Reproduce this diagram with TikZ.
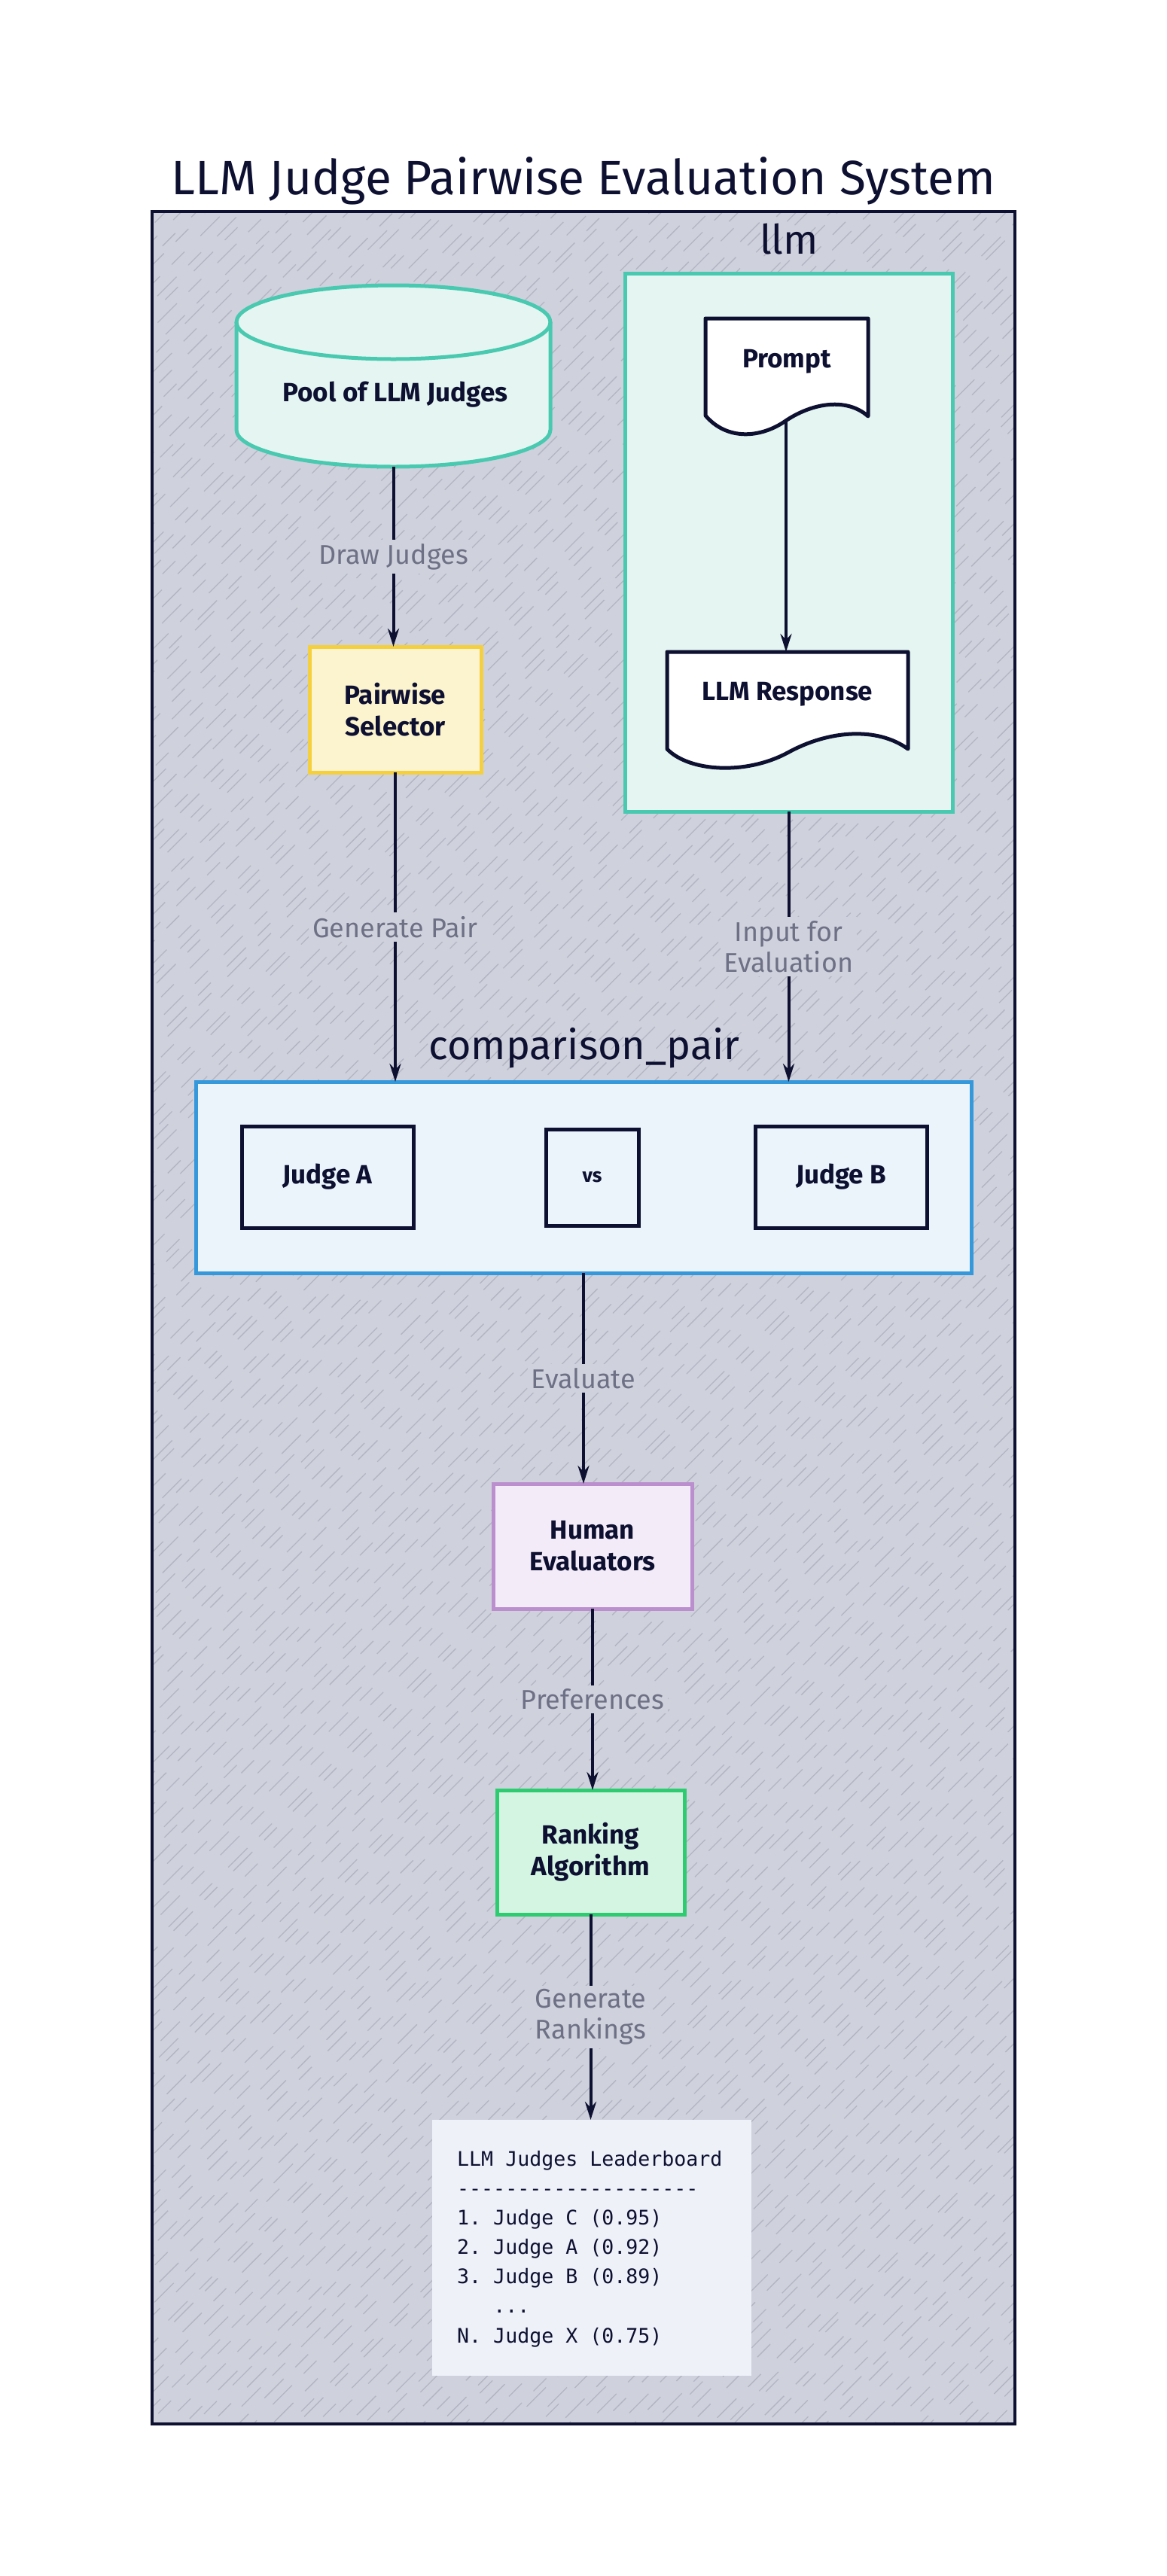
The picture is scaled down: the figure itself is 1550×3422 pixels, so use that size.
\documentclass[tikz,border=0pt]{standalone}
\usepackage{fontspec}
\setmainfont{Fira Sans}
\newfontfamily\monofnt{DejaVu Sans Mono}
\usetikzlibrary{arrows.meta}
\definecolor{ink}{HTML}{0D1030}
\definecolor{framefill}{HTML}{CFD1DD}
\definecolor{hatchc}{HTML}{B3B5C3}
\definecolor{tealline}{HTML}{48C9B0}
\definecolor{tealfill}{HTML}{E5F5F1}
\definecolor{yelline}{HTML}{F4D03F}
\definecolor{yelfill}{HTML}{FCF3CF}
\definecolor{blueline}{HTML}{3498DB}
\definecolor{bluefill}{HTML}{EBF3FB}
\definecolor{purline}{HTML}{BB8FCE}
\definecolor{purfill}{HTML}{F3EBF7}
\definecolor{grnline}{HTML}{2ECC71}
\definecolor{grnfill}{HTML}{D5F5E3}
\definecolor{lbfill}{HTML}{EEF1F8}
\definecolor{elabc}{HTML}{6E7085}
\tikzset{
  arr/.style={draw=ink, line width=4pt, -{Stealth[length=24pt,width=15pt]}},
  nodebox/.style={rectangle, line width=5pt, inner sep=0pt, outer sep=0pt, align=center,
     font=\fontsize{35}{42}\selectfont\bfseries, text=ink},
  grp/.style={rectangle, line width=5pt, inner sep=0pt, outer sep=0pt},
  elabel/.style={fill=framefill, inner sep=5pt, align=center, text=elabc,
     font=\fontsize{36}{41}\selectfont},
  hatch/.style={draw=hatchc, line width=1.3pt},
  docline/.style={draw=ink, line width=5pt, line join=round, fill=white},
  lbline/.style={anchor=base west, inner sep=0pt, text=ink, font=\monofnt\fontsize{26.6}{39}\selectfont},
}
\frenchspacing
\begin{document}
\begin{tikzpicture}[x=1pt, y=-1pt]
\useasboundingbox[fill=white] (0,0) rectangle (1550,3422);
% title
\node[font=\fontsize{64}{70}\selectfont, text=ink] (title) at (775,240) {LLM Judge Pairwise Evaluation System};
% outer frame
\fill[framefill] (202,281) rectangle (1348,3220);
\pgfmathsetseed{4242}
\begin{scope}
\clip (202,281) rectangle (1348,3220);
\foreach \k in {0,...,210} {
  \pgfmathsetmacro{\ph}{random(0,90)}
  \pgfmathsetmacro{\dx}{rand*6}
  \draw[hatch, dash pattern=on 36pt off 22pt on 24pt off 30pt, dash phase=\ph pt] ({-2800+\k*20+\dx},3240) -- ++(3100,-3100);
}
\end{scope}
\draw[ink, line width=4.5pt] (202,281) rectangle (1348,3220);

% llm group
\node[grp, draw=tealline, fill=tealfill, minimum width=435, minimum height=715] (llm) at (1047.5,720.5) {};
\node[font=\fontsize{54}{58}\selectfont, text=ink] (llmlabel) at (1048,318) {llm};

% pool cylinder
\fill[tealfill] (314,428) -- (314,571) arc[start angle=180, end angle=0, x radius=208.5, y radius=49] -- (731,428) arc[start angle=0, end angle=-180, x radius=208.5, y radius=49] -- cycle;
\draw[tealline, line width=5pt] (314,428) -- (314,571) arc[start angle=180, end angle=0, x radius=208.5, y radius=49] -- (731,428);
\draw[tealline, line width=5pt] (522.5,428) ellipse[x radius=208.5, y radius=49];
\node[nodebox, minimum width=417, minimum height=241] (pool) at (522.5,499.5) {};
\node[nodebox] (pooltext) at (525,524) {Pool of LLM Judges};

% pairwise selector
\node[nodebox, draw=yelline, fill=yelfill, minimum width=228, minimum height=167] (sel) at (525,942.5) {Pairwise\\Selector};

% prompt document
\draw[docline] (937,552) -- (937,423) -- (1153,423) -- (1153,553)
  .. controls (1125,528) and (1080,535) .. (1045,558)
  .. controls (1010,583) and (965,585) .. (937,552) -- cycle;
\node[nodebox] (prompt) at (1045,480) {Prompt};
\coordinate (promptbot) at (1044,558);

% LLM response document
\draw[docline] (886,995) -- (886,866) -- (1206,866) -- (1206,995)
  .. controls (1165,965) and (1100,970) .. (1046,1000)
  .. controls (990,1030) and (915,1025) .. (886,995) -- cycle;
\node[nodebox, minimum width=320, minimum height=129] (resp) at (1046,930.5) {};
\node[nodebox] (resptext) at (1046,922) {LLM Response};

% comparison pair group
\node[grp, draw=blueline, fill=bluefill, minimum width=1030, minimum height=254] (cmp) at (775,1564) {};
\node[font=\fontsize{54}{60}\selectfont, text=ink] (cmplabel) at (776,1392) {comparison\_pair};
\node[nodebox, draw=ink, minimum width=228, minimum height=135] (ja) at (435,1563.5) {Judge A};
\node[nodebox, draw=ink, minimum width=123, minimum height=128, font=\fontsize{26}{30}\selectfont\bfseries] (vs) at (786.5,1564) {vs};
\node[nodebox, draw=ink, minimum width=228, minimum height=135] (jb) at (1117,1563.5) {Judge B};

% human evaluators
\node[nodebox, draw=purline, fill=purfill, minimum width=264, minimum height=166] (hum) at (787,2054) {Human\\Evaluators};
% ranking
\node[nodebox, draw=grnline, fill=grnfill, minimum width=249, minimum height=165] (rank) at (784.5,2460.5) {Ranking\\Algorithm};

% leaderboard
\node[rectangle, fill=lbfill, minimum width=424, minimum height=340, inner sep=0pt, outer sep=0pt] (board) at (786,2986) {};
\node[lbline] (lb1) at (607,2877) {LLM Judges Leaderboard};
\node[lbline] (lb2) at (607,2916) {-{}-{}-{}-{}-{}-{}-{}-{}-{}-{}-{}-{}-{}-{}-{}-{}-{}-{}-{}-{}};
\node[lbline] (lb3) at (607,2955) {1. Judge C (0.95)};
\node[lbline] (lb4) at (607,2994) {2. Judge A (0.92)};
\node[lbline] (lb5) at (607,3033) {3. Judge B (0.89)};
\node[lbline] (lb6) at (607,3072) {\phantom{N. }...};
\node[lbline] (lb7) at (607,3112) {N. Judge X (0.75)};

% connectors
\draw[arr] (pool.south) -- node[elabel] {Draw Judges} (pool.south |- sel.north);
\draw[arr] (promptbot) -- (promptbot |- resp.north);
\draw[arr] (sel.south) -- node[elabel] {Generate Pair} (sel.south |- cmp.north);
\draw[arr] (llm.south) -- node[elabel] {Input for\\Evaluation} (llm.south |- cmp.north);
\draw[arr] (cmp.south) -- node[elabel] {Evaluate} (cmp.south |- hum.north);
\draw[arr] (hum.south) -- node[elabel] {Preferences} (hum.south |- rank.north);
\draw[arr] (rank.south) -- node[elabel] {Generate\\Rankings} (rank.south |- board.north);
\end{tikzpicture}
\end{document}
